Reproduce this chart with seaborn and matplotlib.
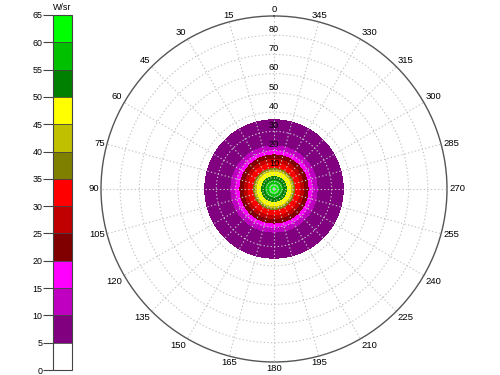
import numpy as np
import matplotlib
matplotlib.use("Agg")
import matplotlib.pyplot as plt
import seaborn as sns

# radial profile of the radiant intensity (polar angle in deg -> W/sr)
polar_angle = [0, 1.2, 2.3, 4.2, 6.4, 8.7, 9.6, 10.6, 13.4, 15.4, 17.7, 19.8, 22.4, 36.0, 45, 60, 75, 90]
intensity = [63, 62, 60, 55, 50, 45, 40, 35, 30, 25, 20, 15, 10, 5, 3.5, 2, 1, 0]

levels = list(range(0, 70, 5))
level_colors = ['#FFFFFF', '#800080', '#C000C0', '#FF00FF',
                '#800000', '#C00000', '#FF0000',
                '#808000', '#C0C000', '#FFFF00',
                '#008000', '#00C000', '#00FF00']
azimuth_ticks = list(range(0, 360, 15))
ring_ticks = list(range(10, 90, 10))


def main():
    sns.set_theme(style="white")
    plt.rcParams['font.family'] = ['Liberation Sans', 'DejaVu Sans']
    plt.rcParams['text.color'] = 'black'

    fig = plt.figure(figsize=(5, 3.75), dpi=100)
    ax = fig.add_axes([0.202, 0.0347, 0.692, 0.9227], projection='polar')
    cax = fig.add_axes([0.106, 0.0133, 0.038, 0.9467])

    # the pattern is rotationally symmetric: repeat the profile over azimuth
    az = np.deg2rad(np.linspace(0, 360, 361))
    rr = np.array(polar_angle, dtype=float)
    T, R = np.meshgrid(az, rr)
    Z = np.tile(np.array(intensity, dtype=float)[:, None], (1, len(az)))

    cs = ax.contourf(T, R, Z, levels=levels, colors=level_colors, zorder=1)

    ax.set_theta_zero_location('N')
    ax.set_theta_direction(1)
    ax.set_ylim(0, 90)
    ax.set_axisbelow(False)

    # azimuth labels sit just outside the rim, aligned by their edge
    ax.set_thetagrids(azimuth_ticks, [''] * len(azimuth_ticks))
    for a in azimuth_ticks:
        dx, dy = -np.sin(np.deg2rad(a)), np.cos(np.deg2rad(a))
        ha = 'right' if dx < -0.3 else ('left' if dx > 0.3 else 'center')
        va = 'bottom' if dy > 0.3 else ('top' if dy < -0.3 else 'center')
        ax.annotate(str(a), xy=(np.deg2rad(a), 90), xytext=(1.5 * dx, 1.5 * dy),
                    textcoords='offset points', ha=ha, va=va, fontsize=6.8,
                    color='black', annotation_clip=False)

    ax.set_rgrids(ring_ticks, [''] * len(ring_ticks))
    for r in ring_ticks:
        ax.text(0, r + 0.7, str(r), ha='center', va='bottom', fontsize=6.6, color='black', zorder=5)

    ax.grid(True, color='#C4C4C4', linestyle=(0, (1.2, 2)), linewidth=0.8)
    ax.spines['polar'].set_color('#555555')
    ax.spines['polar'].set_linewidth(1.0)

    # discrete colour bar on the left
    cb = fig.colorbar(cs, cax=cax, ticks=levels, drawedges=True)
    cb.outline.set_edgecolor('#444444')
    cb.outline.set_linewidth(0.8)
    cb.dividers.set_color('#444444')
    cb.dividers.set_linewidth(0.6)
    cax.yaxis.set_ticks_position('left')
    cax.tick_params(axis='y', length=7, width=0.8, color='#444444', labelsize=6.4,
                    labelcolor='black', pad=0.5)
    cax.set_title('W/sr', fontsize=6.4, pad=3.5, color='black')

    fig.savefig('out.png', dpi=100)


if __name__ == '__main__':
    main()
